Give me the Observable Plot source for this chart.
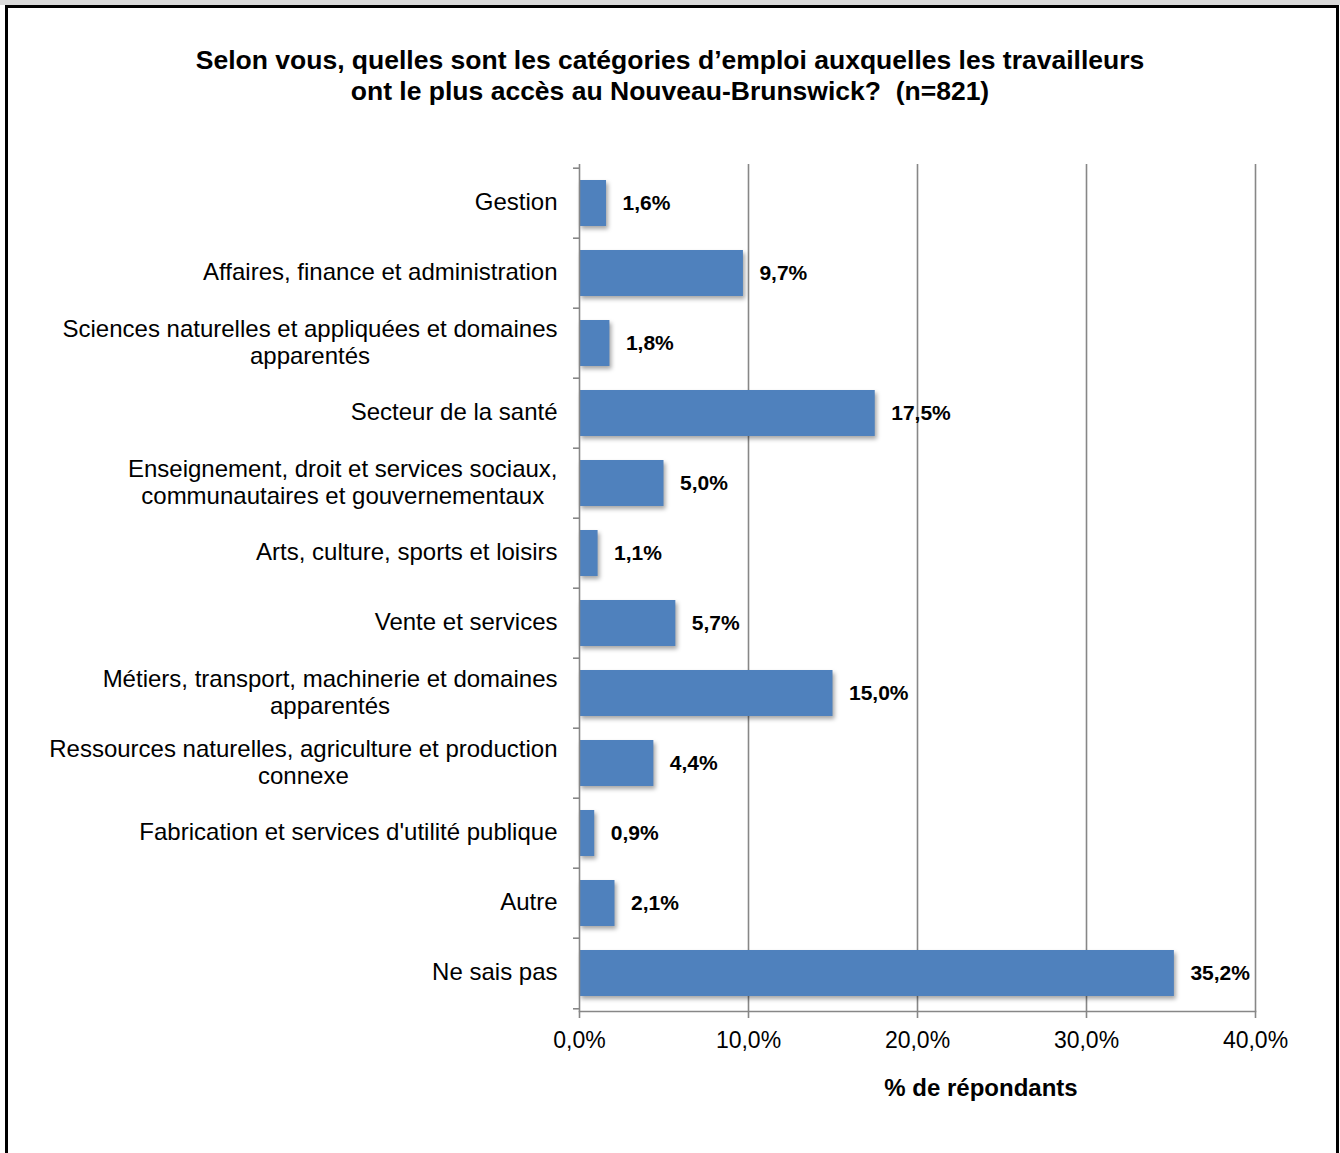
<!DOCTYPE html>
<html>
<head>
<meta charset="utf-8">
<script src="https://cdn.jsdelivr.net/npm/d3@7"></script>
<script src="https://cdn.jsdelivr.net/npm/@observablehq/plot@0.6"></script>
<style>
  body { margin: 0; background: #fff; }
  #wrap { position: relative; width: 1340px; height: 1153px; overflow: hidden; background: #fff;
          font-family: "Liberation Sans", Arial, Helvetica, sans-serif; color: #000; }
  #band { position: absolute; left: 0; top: 0; width: 1340px; height: 5px; background: #d9d9d9; }
  #btop { position: absolute; left: 5px; top: 5px; width: 1334px; height: 3px; background: #000; }
  #bleft { position: absolute; left: 5px; top: 5px; width: 3px; height: 1148px; background: #000; }
  #bright { position: absolute; left: 1336px; top: 5px; width: 3px; height: 1148px; background: #000; }
  #title { position: absolute; left: 0; top: 45px; width: 1340px; text-align: center; font-weight: bold;
           font-size: 26.5px; line-height: 31px; }
  #chart { position: absolute; left: 0; top: 0; }
  #xlabel { position: absolute; left: 831px; width: 300px; top: 1074px; text-align: center; font-weight: bold; font-size: 24px; }
  g[aria-label="bar"] { filter: drop-shadow(2px 3px 2px rgba(0,0,0,0.35)); }
</style>
</head>
<body>
<div id="wrap">
  <div id="band"></div>
  <div id="btop"></div>
  <div id="bleft"></div>
  <div id="bright"></div>
  <div id="title">Selon vous, quelles sont les catégories d’emploi auxquelles les travailleurs<br>ont le plus accès au Nouveau-Brunswick?&nbsp; (n=821)</div>
  <div id="chart"></div>
  <div id="xlabel">% de répondants</div>
</div>
<script>
const categories = [
  "Gestion",
  "Affaires, finance et administration",
  "Sciences naturelles et appliquées et domaines\napparentés",
  "Secteur de la santé",
  "Enseignement, droit et services sociaux,\ncommunautaires et gouvernementaux",
  "Arts, culture, sports et loisirs",
  "Vente et services",
  "Métiers, transport, machinerie et domaines\napparentés",
  "Ressources naturelles, agriculture et production\nconnexe",
  "Fabrication et services d'utilité publique",
  "Autre",
  "Ne sais pas"
];
const values = [1.6, 9.7, 1.8, 17.5, 5.0, 1.1, 5.7, 15.0, 4.4, 0.9, 2.1, 35.2];
const xTicks = [0, 10, 20, 30, 40];

const fmt = d => d.toFixed(1).replace(".", ",") + "%";
const data = categories.map((c, i) => ({cat: c, value: values[i]}));

const W = 1340, H = 1100, mT = 164, mB = 89;
const step = (H - mT - mB) / categories.length;
const grey = "#878787";

const chart = Plot.plot({
  width: W,
  height: H,
  marginLeft: 579,
  marginRight: 85,
  marginTop: mT,
  marginBottom: mB,
  style: {fontFamily: '"Liberation Sans", Arial, Helvetica, sans-serif', fontSize: "20px", color: "#000", background: "transparent", overflow: "visible"},
  x: {domain: [0, 40]},
  y: {domain: categories, paddingInner: 0.35, paddingOuter: 0.175},
  marks: [
    Plot.ruleX(xTicks.slice(1), {stroke: grey, strokeWidth: 1.6, strokeOpacity: 1}),
    Plot.barX(data, {x: "value", y: "cat", fill: "#4f81bd"}),
    Plot.ruleX([0], {stroke: grey, strokeWidth: 1.6, strokeOpacity: 1}),
    Plot.frame({anchor: "bottom", stroke: grey, strokeWidth: 1.6, strokeOpacity: 1}),
    Plot.axisX({ticks: xTicks, tickFormat: fmt, tickSize: 7, tickPadding: 13, stroke: grey, strokeWidth: 1.6, strokeOpacity: 1, fontSize: 23, label: null}),
    Plot.axisY({tickSize: 0, tickPadding: 22, fontSize: 24, lineHeight: 1.15, dy: -2, label: null}),
    Plot.axisY({tickSize: 6, tickFormat: () => "", dy: -step / 2, stroke: grey, strokeWidth: 1.6, strokeOpacity: 1, label: null}),
    Plot.axisY({ticks: [categories[categories.length - 1]], tickSize: 6, tickFormat: () => "", dy: step / 2, stroke: grey, strokeWidth: 1.6, strokeOpacity: 1, label: null}),
    Plot.text(data, {x: "value", y: "cat", text: d => fmt(d.value), dx: 16, textAnchor: "start", fontWeight: "bold", fontSize: 21})
  ]
});
document.getElementById("chart").appendChild(chart);

// centre the wrapped lines of multi-line category labels within their block (as in the original)
d3.select(chart).selectAll('g[aria-label="y-axis tick label"] text').each(function () {
  const tspans = this.querySelectorAll("tspan");
  if (tspans.length < 2) return;
  let w = 0;
  tspans.forEach(t => { w = Math.max(w, t.getComputedTextLength()); });
  this.setAttribute("text-anchor", "middle");
  tspans.forEach(t => { t.setAttribute("x", (+t.getAttribute("x") || 0) - w / 2); });
});
</script>
</body>
</html>
